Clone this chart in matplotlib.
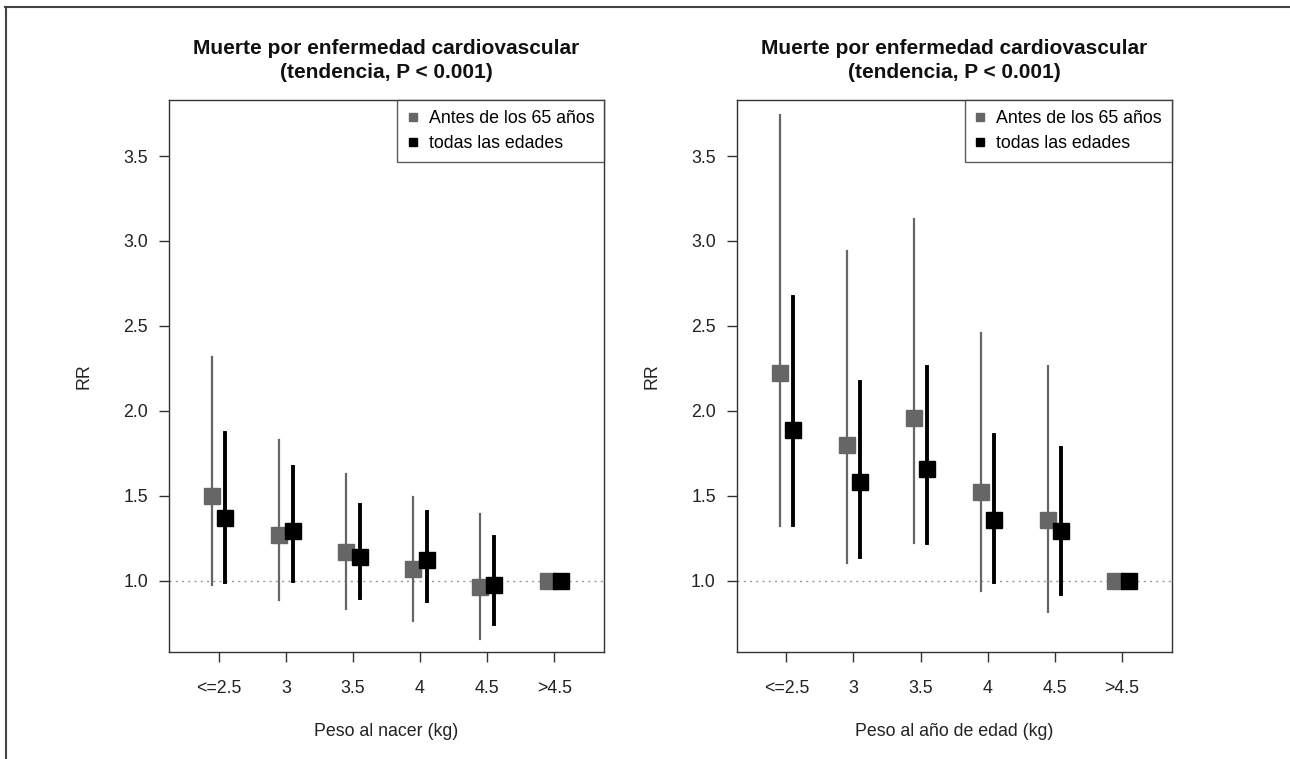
import matplotlib
matplotlib.use("Agg")
import matplotlib.pyplot as plt
from matplotlib.lines import Line2D
import numpy as np

plt.rcParams['font.family'] = ['Liberation Sans', 'DejaVu Sans']

categories = ["<=2.5", "3", "3.5", "4", "4.5", ">4.5"]
series_names = ["Antes de los 65 años", "todas las edades"]

# Panel 1: Peso al nacer
p1_early = [1.50, 1.27, 1.17, 1.07, 0.96, 1.00]
p1_early_lo = [0.975, 0.886, 0.835, 0.765, 0.655, None]
p1_early_hi = [2.318, 1.83, 1.63, 1.494, 1.392, None]
p1_all = [1.37, 1.29, 1.14, 1.12, 0.973, 1.00]
p1_all_lo = [0.99, 1.00, 0.90, 0.882, 0.744, None]
p1_all_hi = [1.867, 1.667, 1.445, 1.404, 1.255, None]

# Panel 2: Peso al año de edad
p2_early = [2.225, 1.80, 1.96, 1.52, 1.36, 1.00]
p2_early_lo = [1.324, 1.106, 1.224, 0.94, 0.814, None]
p2_early_hi = [3.74, 2.94, 3.128, 2.46, 2.265, None]
p2_all = [1.89, 1.58, 1.66, 1.36, 1.29, 1.00]
p2_all_lo = [1.33, 1.14, 1.22, 0.99, 0.92, None]
p2_all_hi = [2.67, 2.17, 2.26, 1.857, 1.78, None]

titles = ["Muerte por enfermedad cardiovascular\n(tendencia, P < 0.001)",
          "Muerte por enfermedad cardiovascular\n(tendencia, P < 0.001)"]
xlabels = ["Peso al nacer (kg)", "Peso al año de edad (kg)"]
yticks = [1.0, 1.5, 2.0, 2.5, 3.0, 3.5]

GRAY = "#666666"
BLACK = "#000000"
AXC = "#333333"
TXT = "#222222"
FS = 12.8

fig = plt.figure(figsize=(12.9, 7.59), dpi=100)

# figure frame (top and left lines)
fig.add_artist(Line2D([5/1290, 1.0], [1 - 7/759, 1 - 7/759], transform=fig.transFigure,
                      color="#444444", lw=1.5))
fig.add_artist(Line2D([6/1290, 6/1290], [1 - 7/759, 0.0], transform=fig.transFigure,
                      color="#444444", lw=1.5))

panels = [
    (p1_early, p1_early_lo, p1_early_hi, p1_all, p1_all_lo, p1_all_hi),
    (p2_early, p2_early_lo, p2_early_hi, p2_all, p2_all_lo, p2_all_hi),
]
lefts = [169/1290, 736.6/1290]

for i, (e, elo, ehi, a, alo, ahi) in enumerate(panels):
    ax = fig.add_axes([lefts[i], 1 - 652/759, 435/1290, 552/759])
    x = np.arange(1, len(categories) + 1)
    ax.axhline(1.0, color="#999999", lw=1.0, ls=(0, (1.5, 3)), zorder=1)
    for j in range(len(categories)):
        if elo[j] is not None:
            ax.plot([x[j] - 0.1, x[j] - 0.1], [elo[j], ehi[j]], color=GRAY, lw=1.6, zorder=2)
        if alo[j] is not None:
            ax.plot([x[j] + 0.1, x[j] + 0.1], [alo[j], ahi[j]], color=BLACK, lw=2.8, zorder=3)
    ax.plot(x - 0.1, e, ls="none", marker="s", ms=11.5, color=GRAY, mec=GRAY, zorder=4)
    ax.plot(x + 0.1, a, ls="none", marker="s", ms=12, color=BLACK, mec=BLACK, zorder=5)

    ax.set_xlim(0.258, 6.742)
    ax.set_ylim(0.58, 3.83)
    ax.set_xticks(x)
    ax.set_xticklabels(categories)
    ax.set_yticks(yticks)
    ax.set_yticklabels([f"{v:.1f}" for v in yticks])
    ax.tick_params(axis="both", direction="out", length=7, width=1.0, color=AXC,
                   labelsize=FS, labelcolor=TXT)
    ax.tick_params(axis="x", pad=13)
    ax.tick_params(axis="y", pad=8)
    for s in ax.spines.values():
        s.set_color(AXC)
        s.set_linewidth(1.0)
    ax.set_xlabel(xlabels[i], fontsize=FS, color=TXT, labelpad=19)
    ax.set_ylabel("RR", fontsize=FS, color=TXT, labelpad=22)
    ax.set_title(titles[i], fontsize=15, fontweight="bold", color="#111111", pad=16,
                 linespacing=1.35)

    handles = [Line2D([], [], ls="none", marker="s", ms=6, color=GRAY, mec=GRAY),
               Line2D([], [], ls="none", marker="s", ms=6, color=BLACK, mec=BLACK)]
    leg = ax.legend(handles, series_names, loc="upper right", fontsize=FS,
                    frameon=True, fancybox=False, borderaxespad=0.0,
                    handlelength=0.6, handletextpad=0.6, borderpad=0.55,
                    labelspacing=0.45)
    leg.get_frame().set_edgecolor(AXC)
    leg.get_frame().set_linewidth(1.0)

fig.savefig("out.png", dpi=100)
